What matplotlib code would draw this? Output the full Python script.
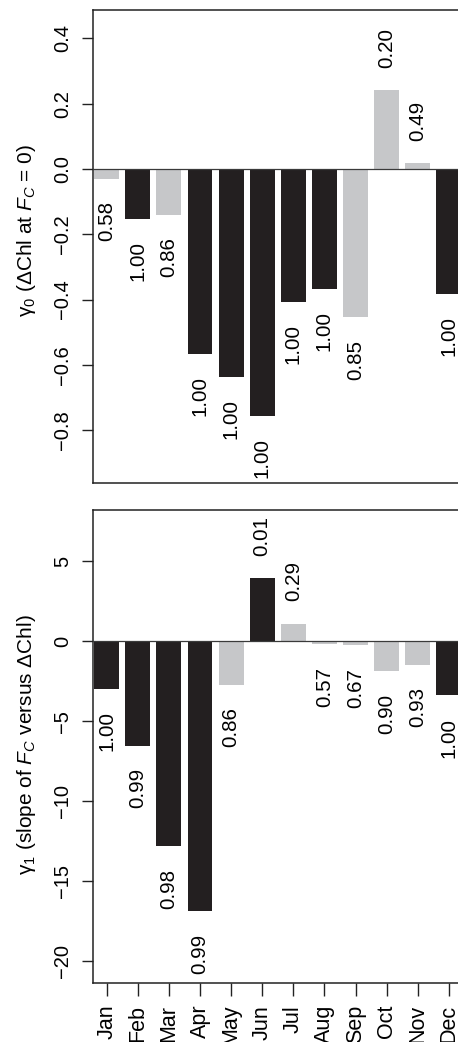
import numpy as np
import matplotlib.pyplot as plt

plt.rcParams['font.family'] = ['Liberation Sans', 'DejaVu Sans']
plt.rcParams['mathtext.fontset'] = 'custom'
plt.rcParams['mathtext.rm'] = 'Liberation Sans'
plt.rcParams['mathtext.it'] = 'Liberation Sans:italic'

months = ['Jan', 'Feb', 'Mar', 'Apr', 'May', 'Jun',
          'Jul', 'Aug', 'Sep', 'Oct', 'Nov', 'Dec']

# gamma0 (intercept) and its probabilities
g0 = [-0.03, -0.153, -0.142, -0.567, -0.638, -0.757,
      -0.408, -0.367, -0.455, 0.241, 0.018, -0.383]
p0 = ['0.58', '1.00', '0.86', '1.00', '1.00', '1.00',
      '1.00', '1.00', '0.85', '0.20', '0.49', '1.00']
sig0 = [0, 1, 0, 1, 1, 1, 1, 1, 0, 0, 0, 1]

# gamma1 (slope) and its probabilities
g1 = [-3.0, -6.54, -12.84, -16.9, -2.73, 3.94,
      1.1, -0.21, -0.27, -1.88, -1.48, -3.4]
p1 = ['1.00', '0.99', '0.98', '0.99', '0.86', '0.01',
      '0.29', '0.57', '0.67', '0.90', '0.93', '1.00']
sig1 = [1, 1, 1, 1, 0, 1, 0, 0, 0, 0, 0, 1]

BLACK = '#231f20'
GREY = '#c6c7c9'

W, H = 458, 1042
fig = plt.figure(figsize=(W / 100, H / 100), dpi=100)

def px_axes(left, top, right, bottom):
    return fig.add_axes([left / W, 1 - bottom / H, (right - left) / W, (bottom - top) / H])

ax1 = px_axes(93, 10, 462.5, 483)
ax2 = px_axes(93, 510, 462.5, 983.3)

def draw(ax, vals, probs, sig, ylim, yticks, yticklabels, ylabel, label_y, show_x):
    x = np.arange(len(vals))
    cols = [BLACK if s else GREY for s in sig]
    ax.bar(x, vals, width=0.8, color=cols, zorder=2)
    ax.axhline(0, color='#3a3a3a', lw=0.9, zorder=3)
    for xi, v, p in zip(x, vals, probs):
        if v >= 0:
            ax.annotate(p, (xi, v), xytext=(0, 16), textcoords='offset points',
                        rotation=90, ha='center', va='bottom', fontsize=14.8)
        else:
            ax.annotate(p, (xi, v), xytext=(0, -16), textcoords='offset points',
                        rotation=90, ha='center', va='top', fontsize=14.8)
    ax.set_xlim(-0.44, 11.44)
    ax.set_ylim(*ylim)
    ax.set_yticks(yticks)
    ax.set_yticklabels(yticklabels, rotation=90, va='center', fontsize=14.5)
    ax.tick_params(axis='y', length=8, width=1.0, color='#222222', pad=7)
    for s in ['left', 'top', 'bottom', 'right']:
        ax.spines[s].set_linewidth(1.1)
        ax.spines[s].set_color('#222222')
    if show_x:
        ax.set_xticks(x)
        ax.set_xticklabels(months, rotation=90, va='top', fontsize=15.5)
        ax.tick_params(axis='x', length=9.5, width=1.0, color='#222222', pad=6)
    else:
        ax.set_xticks([])
    ax.set_ylabel(ylabel, fontsize=15)
    ax.yaxis.set_label_coords(-0.149, label_y)

draw(ax1, g0, p0, sig0, (-0.962, 0.487),
     [0.4, 0.2, 0.0, -0.2, -0.4, -0.6, -0.8],
     ['0.4', '0.2', '0.0', '\u22120.2', '\u22120.4', '\u22120.6', '\u22120.8'],
     r'γ$_0$ (ΔChl at $F_C$ = 0)', 0.533, False)

draw(ax2, g1, p1, sig1, (-21.4, 8.2),
     [5, 0, -5, -10, -15, -20],
     ['5', '0', '\u22125', '\u221210', '\u221215', '\u221220'],
     r'γ$_1$ (slope of $F_C$ versus ΔChl)', 0.505, True)

fig.savefig('out.png', dpi=100)
